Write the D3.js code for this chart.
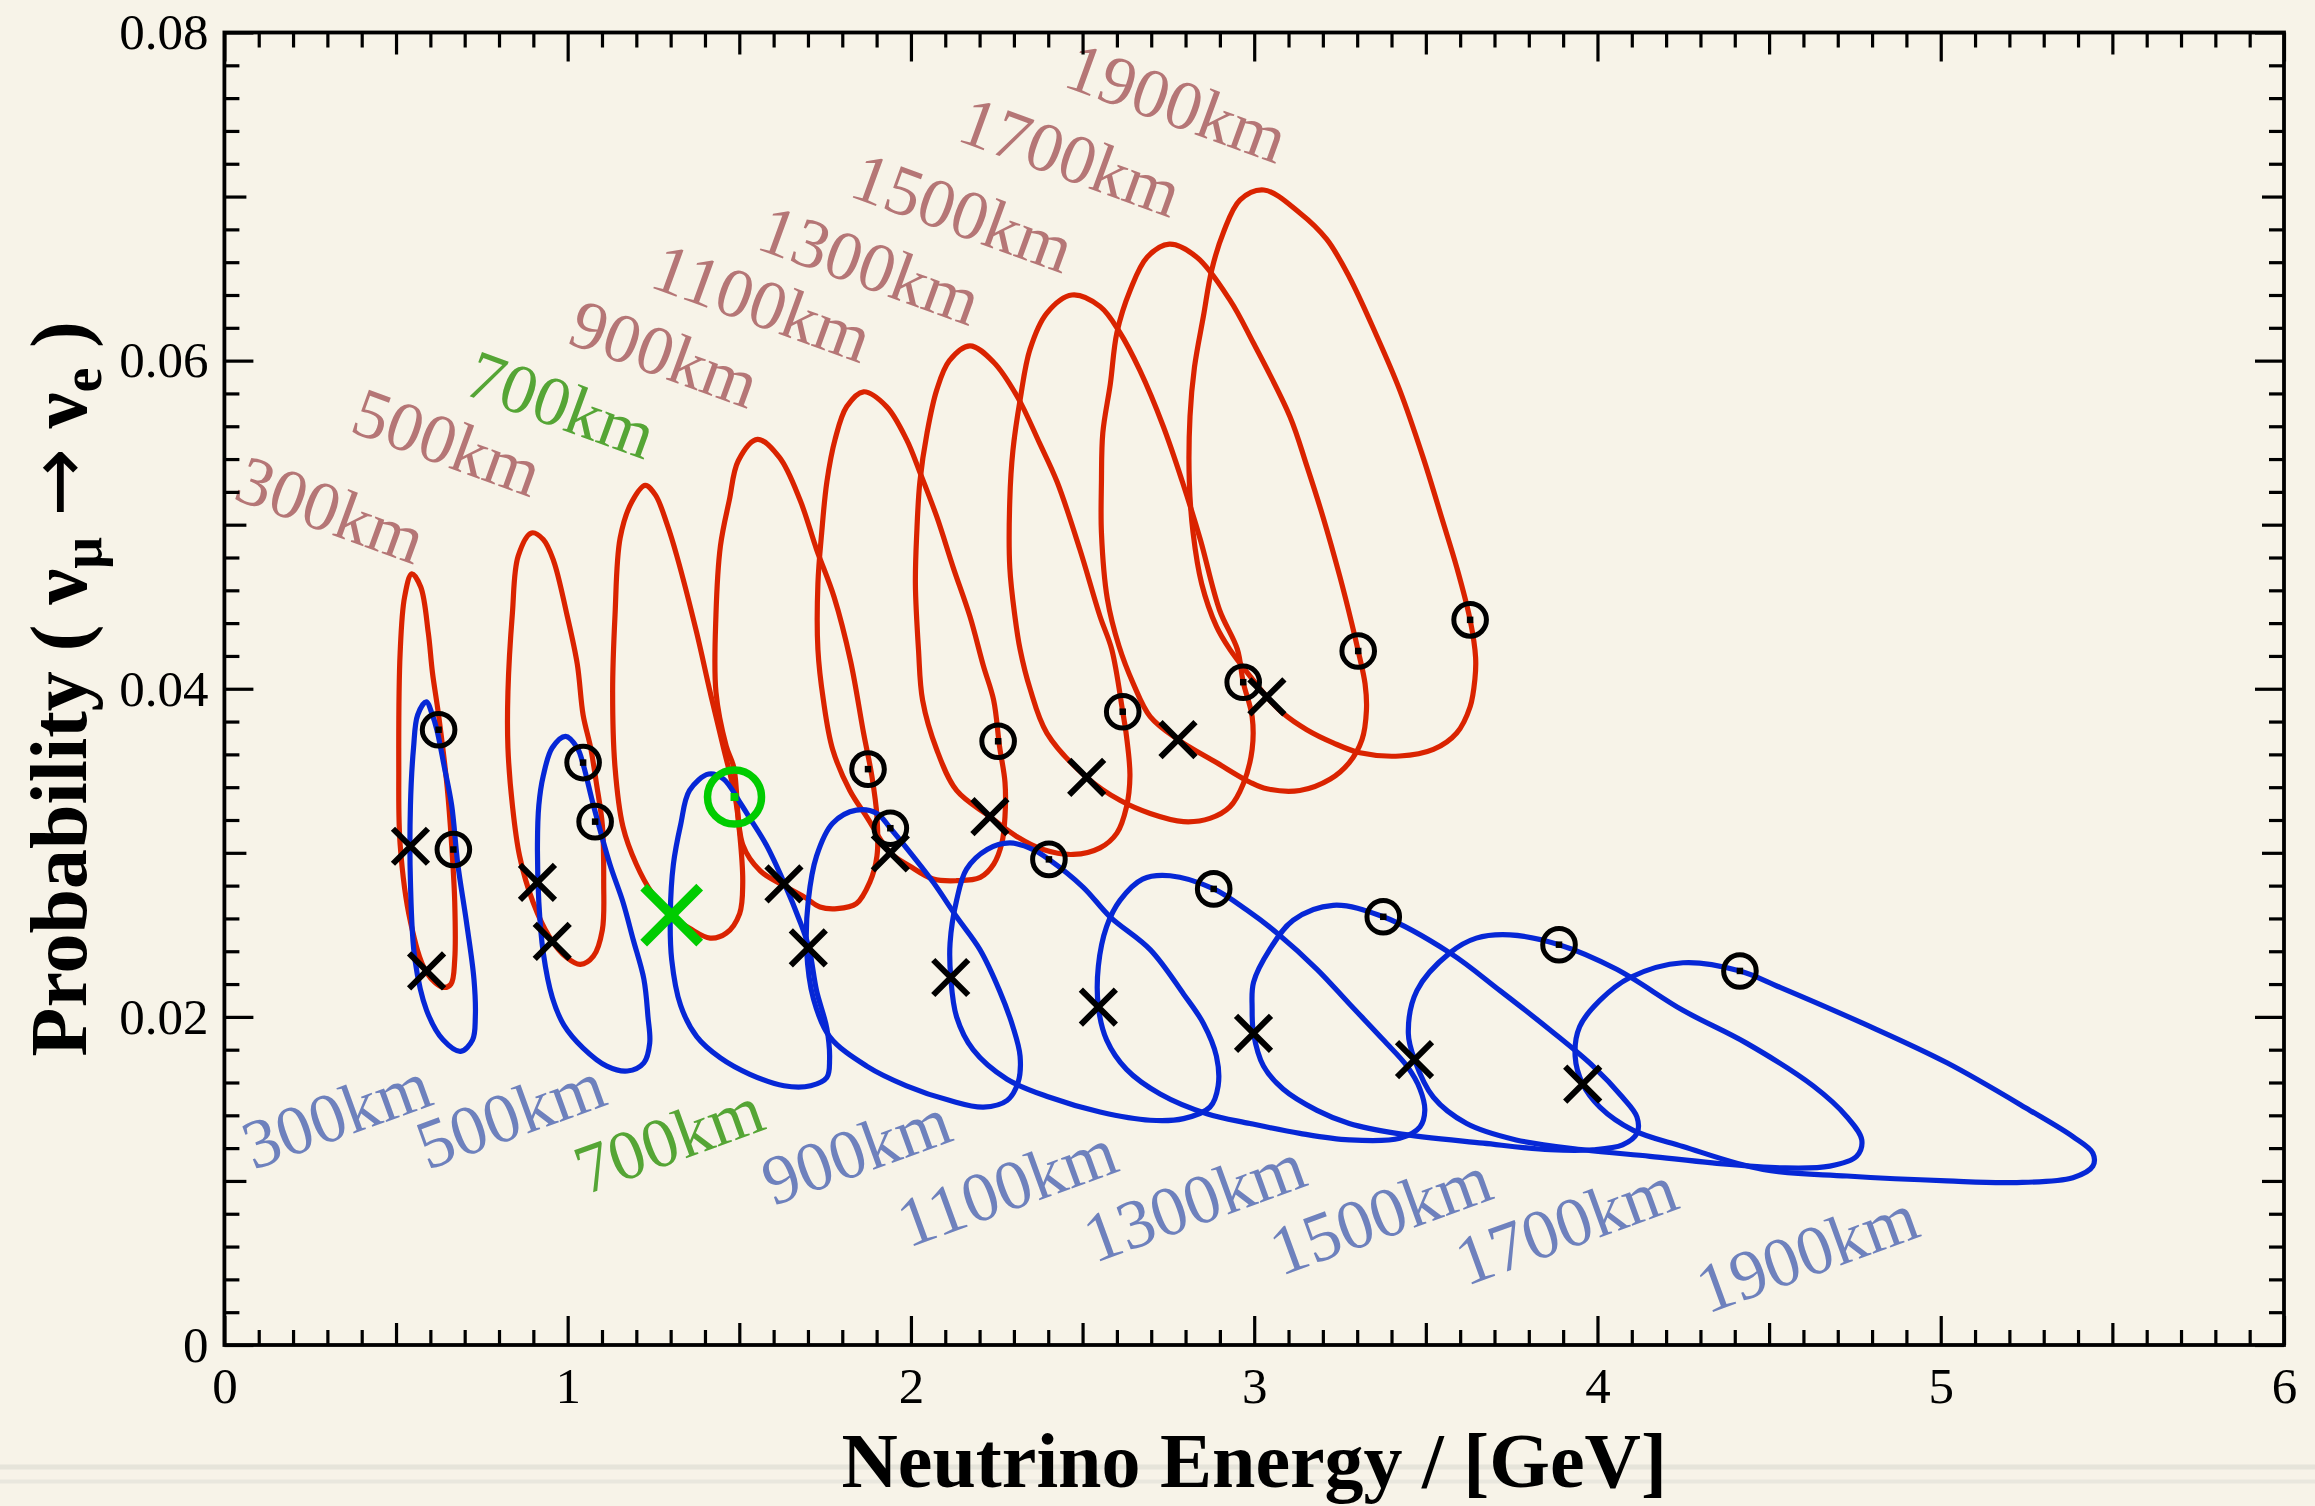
<!DOCTYPE html>
<html><head><meta charset="utf-8">
<script src="https://cdn.jsdelivr.net/npm/d3@7"></script>
<style>
html,body{margin:0;padding:0;background:#F7F3E8;}
svg{display:block;}
text{font-family:"Liberation Serif","Times New Roman",serif;}
</style></head>
<body><svg id="chart" width="2315" height="1506"></svg>
<script>
// ---------- data (E in GeV, P probability) ----------
const baselines = [300,500,700,900,1100,1300,1500,1700,1900];

// neutrino (red) closed curves
const nu300 = [[0.546,0.0470],[0.572,0.0462],[0.594,0.0434],[0.606,0.0410],[0.624,0.0384],[0.649,0.0340],[0.662,0.0305],[0.671,0.0270],[0.671,0.0235],[0.660,0.0220],[0.637,0.0218],[0.589,0.0227],[0.542,0.0258],[0.512,0.0305],[0.508,0.0352],[0.512,0.0422],[0.525,0.0456]];
const nu500 = [[0.895,0.0495],[0.929,0.0491],[0.959,0.0478],[0.998,0.0445],[1.028,0.0415],[1.045,0.0384],[1.067,0.0364],[1.084,0.0342],[1.101,0.0317],[1.105,0.0282],[1.101,0.0253],[1.075,0.0237],[1.037,0.0232],[0.998,0.0236],[0.946,0.0249],[0.899,0.0270],[0.860,0.0298],[0.839,0.0329],[0.826,0.0364],[0.826,0.0398],[0.839,0.0446],[0.856,0.0481]];
const nu700 = [[1.226,0.0524],[1.256,0.0518],[1.290,0.0500],[1.318,0.0481],[1.376,0.0434],[1.415,0.0398],[1.454,0.0364],[1.488,0.0334],[1.501,0.0312],[1.510,0.0282],[1.501,0.0263],[1.462,0.0251],[1.415,0.0248],[1.355,0.0254],[1.299,0.0262],[1.247,0.0275],[1.200,0.0293],[1.161,0.0316],[1.138,0.0352],[1.131,0.0398],[1.138,0.0445],[1.153,0.0492],[1.187,0.0514]];
const nu900 = [[1.553,0.0552],[1.617,0.0541],[1.677,0.0515],[1.725,0.0485],[1.776,0.0456],[1.824,0.0417],[1.862,0.0373],[1.886,0.0347],[1.901,0.0322],[1.901,0.0298],[1.880,0.0282],[1.841,0.0269],[1.785,0.0266],[1.735,0.0267],[1.690,0.0273],[1.630,0.0280],[1.561,0.0289],[1.510,0.0305],[1.484,0.0352],[1.462,0.0365],[1.432,0.0398],[1.432,0.0445],[1.445,0.0487],[1.471,0.0515],[1.497,0.0539]];
const nu1100 = [[1.862,0.0581],[1.929,0.0572],[1.987,0.0552],[2.026,0.0532],[2.075,0.0505],[2.123,0.0474],[2.172,0.0444],[2.211,0.0414],[2.241,0.0393],[2.258,0.0365],[2.274,0.0343],[2.274,0.0322],[2.265,0.0306],[2.241,0.0293],[2.202,0.0285],[2.133,0.0283],[2.065,0.0284],[1.996,0.0292],[1.940,0.0300],[1.871,0.0322],[1.822,0.0338],[1.772,0.0363],[1.745,0.0393],[1.729,0.0424],[1.729,0.0464],[1.740,0.0495],[1.755,0.0526],[1.779,0.0552],[1.813,0.0572]];
const nu1300 = [[2.172,0.0609],[2.241,0.0599],[2.310,0.0578],[2.374,0.0550],[2.426,0.0526],[2.492,0.0485],[2.551,0.0444],[2.585,0.0424],[2.617,0.0386],[2.628,0.0371],[2.638,0.0347],[2.628,0.0328],[2.600,0.0312],[2.551,0.0303],[2.473,0.0299],[2.385,0.0302],[2.308,0.0310],[2.230,0.0322],[2.133,0.0338],[2.075,0.0363],[2.034,0.0393],[2.022,0.0424],[2.013,0.0464],[2.017,0.0495],[2.026,0.0526],[2.047,0.0556],[2.075,0.0582],[2.112,0.0600]];
const nu1500 = [[2.469,0.0640],[2.551,0.0633],[2.609,0.0617],[2.667,0.0594],[2.735,0.0560],[2.791,0.0526],[2.843,0.0491],[2.899,0.0448],[2.951,0.0424],[2.968,0.0404],[2.994,0.0383],[2.994,0.0363],[2.968,0.0342],[2.929,0.0328],[2.871,0.0321],[2.794,0.0319],[2.697,0.0324],[2.609,0.0332],[2.512,0.0346],[2.396,0.0373],[2.347,0.0400],[2.318,0.0424],[2.303,0.0444],[2.288,0.0474],[2.288,0.0515],[2.297,0.0545],[2.318,0.0576],[2.347,0.0607],[2.396,0.0629]];
const nu1700 = [[2.753,0.0671],[2.833,0.0663],[2.929,0.0637],[2.997,0.0611],[3.104,0.0566],[3.153,0.0536],[3.200,0.0505],[3.250,0.0468],[3.284,0.0440],[3.303,0.0423],[3.323,0.0403],[3.327,0.0387],[3.314,0.0369],[3.277,0.0355],[3.222,0.0345],[3.133,0.0338],[3.037,0.0339],[2.988,0.0343],[2.890,0.0355],[2.778,0.0369],[2.697,0.0383],[2.648,0.0403],[2.606,0.0426],[2.572,0.0455],[2.555,0.0495],[2.555,0.0526],[2.559,0.0556],[2.581,0.0586],[2.600,0.0617],[2.639,0.0643],[2.688,0.0663]];
const nu1900 = [[3.028,0.0704],[3.133,0.0690],[3.211,0.0674],[3.277,0.0651],[3.357,0.0615],[3.424,0.0582],[3.492,0.0541],[3.548,0.0503],[3.590,0.0474],[3.629,0.0442],[3.645,0.0419],[3.643,0.0406],[3.629,0.0389],[3.590,0.0373],[3.522,0.0363],[3.424,0.0359],[3.308,0.0361],[3.230,0.0367],[3.153,0.0375],[3.084,0.0385],[3.037,0.0395],[2.994,0.0406],[2.929,0.0424],[2.890,0.0438],[2.847,0.0464],[2.822,0.0495],[2.811,0.0526],[2.813,0.0566],[2.826,0.0596],[2.852,0.0627],[2.876,0.0655],[2.910,0.0678],[2.959,0.0698]];

// anti-neutrino (blue) closed curves
const anu300 = [[0.588,0.0392],[0.606,0.0384],[0.619,0.0375],[0.641,0.0352],[0.662,0.0329],[0.680,0.0293],[0.705,0.0258],[0.727,0.0223],[0.731,0.0200],[0.723,0.0186],[0.688,0.0179],[0.637,0.0186],[0.589,0.0204],[0.555,0.0235],[0.542,0.0282],[0.542,0.0329],[0.551,0.0364],[0.563,0.0384]];
const anu500 = [[0.994,0.0371],[1.028,0.0364],[1.045,0.0354],[1.075,0.0329],[1.123,0.0293],[1.161,0.0270],[1.191,0.0247],[1.222,0.0223],[1.234,0.0200],[1.239,0.0184],[1.222,0.0172],[1.174,0.0167],[1.114,0.0170],[1.045,0.0181],[0.989,0.0195],[0.955,0.0212],[0.929,0.0239],[0.916,0.0270],[0.912,0.0305],[0.916,0.0329],[0.929,0.0347],[0.955,0.0364]];
const anu700 = [[1.411,0.0348],[1.454,0.0345],[1.501,0.0331],[1.531,0.0321],[1.578,0.0305],[1.630,0.0282],[1.677,0.0258],[1.703,0.0242],[1.725,0.0216],[1.755,0.0193],[1.763,0.0174],[1.755,0.0163],[1.708,0.0158],[1.630,0.0158],[1.531,0.0165],[1.445,0.0175],[1.376,0.0188],[1.329,0.0207],[1.303,0.0235],[1.299,0.0263],[1.308,0.0293],[1.329,0.0317],[1.355,0.0338]];
const anu900 = [[1.841,0.0326],[1.901,0.0324],[1.940,0.0315],[2.006,0.0298],[2.065,0.0282],[2.133,0.0261],[2.201,0.0241],[2.258,0.0216],[2.297,0.0194],[2.318,0.0176],[2.312,0.0160],[2.280,0.0149],[2.211,0.0145],[2.114,0.0149],[1.987,0.0158],[1.871,0.0170],[1.763,0.0188],[1.716,0.0211],[1.696,0.0241],[1.701,0.0271],[1.725,0.0298],[1.772,0.0318]];
const anu1100 = [[2.288,0.0306],[2.356,0.0302],[2.402,0.0296],[2.502,0.0279],[2.580,0.0261],[2.697,0.0241],[2.794,0.0214],[2.852,0.0196],[2.890,0.0176],[2.895,0.0158],[2.871,0.0145],[2.794,0.0138],[2.697,0.0137],[2.551,0.0142],[2.404,0.0151],[2.280,0.0162],[2.181,0.0180],[2.133,0.0200],[2.116,0.0224],[2.114,0.0245],[2.133,0.0271],[2.162,0.0290],[2.222,0.0302]];
const anu1300 = [[2.755,0.0286],[2.882,0.0278],[2.979,0.0265],[3.067,0.0251],[3.183,0.0229],[3.277,0.0208],[3.376,0.0186],[3.445,0.0170],[3.483,0.0156],[3.497,0.0143],[3.483,0.0133],[3.424,0.0126],[3.277,0.0125],[3.133,0.0129],[2.988,0.0135],[2.862,0.0141],[2.726,0.0153],[2.628,0.0168],[2.570,0.0186],[2.546,0.0206],[2.546,0.0231],[2.570,0.0255],[2.609,0.0271],[2.675,0.0284]];
const anu1500 = [[3.230,0.0268],[3.376,0.0261],[3.570,0.0239],[3.716,0.0216],[3.862,0.0192],[3.987,0.0170],[4.073,0.0151],[4.115,0.0139],[4.115,0.0129],[4.073,0.0122],[3.987,0.0119],[3.862,0.0119],[3.667,0.0123],[3.415,0.0129],[3.277,0.0135],[3.183,0.0143],[3.084,0.0156],[3.027,0.0170],[2.998,0.0190],[2.994,0.0205],[2.998,0.0221],[3.045,0.0241],[3.114,0.0259]];
const anu1700 = [[3.745,0.0250],[3.888,0.0244],[4.056,0.0229],[4.249,0.0204],[4.434,0.0184],[4.628,0.0158],[4.727,0.0139],[4.770,0.0125],[4.755,0.0115],[4.677,0.0109],[4.532,0.0108],[4.335,0.0111],[4.153,0.0115],[3.959,0.0119],[3.763,0.0125],[3.619,0.0135],[3.522,0.0151],[3.467,0.0174],[3.449,0.0190],[3.474,0.0216],[3.570,0.0239],[3.647,0.0248]];
const anu1900 = [[4.249,0.0233],[4.415,0.0228],[4.532,0.0218],[4.774,0.0196],[5.018,0.0172],[5.260,0.0143],[5.385,0.0127],[5.443,0.0117],[5.443,0.0109],[5.385,0.0102],[5.211,0.0099],[5.018,0.0100],[4.727,0.0103],[4.482,0.0107],[4.249,0.0121],[4.103,0.0131],[4.007,0.0145],[3.957,0.0159],[3.935,0.0176],[3.948,0.0194],[4.007,0.0210],[4.095,0.0224]];

// markers on the curves
const nuCircles  = [[0.624,0.0375],[1.045,0.0355],[1.875,0.0351],[2.254,0.0368],[2.617,0.0386],[2.968,0.0404],[3.303,0.0423],[3.629,0.0442]];
const anuCircles = [[0.667,0.0302],[1.080,0.0319],[1.940,0.0315],[2.402,0.0296],[2.882,0.0278],[3.376,0.0261],[3.888,0.0244],[4.415,0.0228]];
const nuCrosses  = [[0.542,0.0304],[0.912,0.0282],[1.630,0.0281],[1.940,0.0300],[2.230,0.0322],[2.512,0.0346],[2.778,0.0369],[3.037,0.0395]];
const anuCrosses = [[0.589,0.0228],[0.955,0.0246],[1.701,0.0242],[2.116,0.0224],[2.546,0.0206],[2.998,0.0190],[3.467,0.0174],[3.957,0.0159]];
const magicCircle = [[1.486,0.0334]];
const magicCross  = [[1.303,0.0262]];

// label anchors (data coordinates)
const nuLabelE  = [0.310,0.649,0.981,1.282,1.566,1.880,2.151,2.465,2.774];
const nuLabelP  = [0.0509,0.0550,0.0573,0.0604,0.0635,0.0658,0.0690,0.0724,0.0757];
const anuLabelE = [0.327,0.834,1.295,1.841,2.280,2.826,3.368,3.909,4.611];
const anuLabelP = [0.0140,0.0140,0.0125,0.0118,0.0096,0.0087,0.0079,0.0073,0.0056];

const xMajor = [0,1,2,3,4,5,6];
const yMajor = [0,0.02,0.04,0.06,0.08];

// ---------- drawing ----------
const svg = d3.select("#chart");
const W = 2315, H = 1506;
const L = 224.4, R = 2284, T = 32.5, B = 1345;
const x = d3.scaleLinear().domain([0,6]).range([L,R]);
const y = d3.scaleLinear().domain([0,0.08]).range([B,T]);

svg.append("rect").attr("width",W).attr("height",H).attr("fill","#F7F3E8");
// faint slide lines at the bottom
svg.append("line").attr("x1",0).attr("x2",W).attr("y1",1467).attr("y2",1467).attr("stroke","#E6E4DA").attr("stroke-width",5);
svg.append("line").attr("x1",0).attr("x2",W).attr("y1",1481.5).attr("y2",1481.5).attr("stroke","#E9E7DE").attr("stroke-width",4);

const line = d3.line().x(d=>x(d[0])).y(d=>y(d[1])).curve(d3.curveCatmullRomClosed.alpha(0.5));

const nuCurves  = [nu300,nu500,nu700,nu900,nu1100,nu1300,nu1500,nu1700,nu1900];
const anuCurves = [anu300,anu500,anu700,anu900,anu1100,anu1300,anu1500,anu1700,anu1900];

const gC = svg.append("g");
gC.selectAll("path.nu").data(nuCurves).join("path").attr("class","nu")
  .attr("d",line).attr("fill","none").attr("stroke","#DA2300").attr("stroke-width",5.2).attr("stroke-linejoin","round");
gC.selectAll("path.anu").data(anuCurves).join("path").attr("class","anu")
  .attr("d",line).attr("fill","none").attr("stroke","#0627D6").attr("stroke-width",5.2).attr("stroke-linejoin","round");

// markers
function circles(data, r, sw, dot, col){
  const g = svg.append("g");
  g.selectAll("circle").data(data).join("circle")
    .attr("cx",d=>x(d[0])).attr("cy",d=>y(d[1])).attr("r",r)
    .attr("fill","none").attr("stroke",col).attr("stroke-width",sw);
  g.selectAll("rect").data(data).join("rect")
    .attr("x",d=>x(d[0])-dot/2).attr("y",d=>y(d[1])-dot/2).attr("width",dot).attr("height",dot).attr("fill",col);
}
function crosses(data, s, sw, col){
  svg.append("g").selectAll("path").data(data).join("path")
    .attr("d",d=>{const cx=x(d[0]), cy=y(d[1]); return `M${cx-s},${cy-s}L${cx+s},${cy+s}M${cx-s},${cy+s}L${cx+s},${cy-s}`;})
    .attr("stroke",col).attr("stroke-width",sw).attr("fill","none");
}
circles(nuCircles,16.3,5,6.5,"#000");
circles(anuCircles,16.3,5,6.5,"#000");
crosses(nuCrosses,17.5,6,"#000");
crosses(anuCrosses,17.5,6,"#000");
circles(magicCircle,27,7.5,8,"#00CC00");
crosses(magicCross,28,9.5,"#00CC00");

// labels
const gl = svg.append("g").style("font-size","70px");
baselines.forEach((b,i)=>{
  const col = b===700 ? "#55A535" : "#B57676";
  gl.append("text").attr("transform",`translate(${x(nuLabelE[i])},${y(nuLabelP[i])}) rotate(20)`)
    .attr("text-anchor","middle").attr("dy","0.33em").attr("fill",col).text(b+"km");
});
baselines.forEach((b,i)=>{
  const col = b===700 ? "#55A535" : "#6E81BD";
  gl.append("text").attr("transform",`translate(${x(anuLabelE[i])},${y(anuLabelP[i])}) rotate(-20)`)
    .attr("text-anchor","middle").attr("dy","0.33em").attr("fill",col).text(b+"km");
});

// axes
const xMinor = d3.range(1,60).map(d=>d/10).filter(d=>Math.abs(d*2-Math.round(d*2))>1e-6);
const xMid = [0.5,1.5,2.5,3.5,4.5,5.5];
const yMinor = d3.range(1,40).map(d=>d*0.002).filter(d=>Math.abs(d*100-Math.round(d*100))>1e-6);
const yMid = [0.01,0.03,0.05,0.07];
const sizes = [[xMajor,29],[xMid,22],[xMinor,15]];
const ysizes = [[yMajor,29],[yMid,22],[yMinor,15]];

function styleAxis(g){
  g.select(".domain").remove();
  g.selectAll(".tick line").attr("stroke","#000").attr("stroke-width",3.2);
  g.selectAll(".tick text").attr("fill","#000").style("font-size","51px").style("font-family",'"Liberation Serif","Times New Roman",serif');
}
sizes.forEach(([vals,s],k)=>{
  const gb = svg.append("g").attr("transform",`translate(0,${B})`)
    .call(d3.axisBottom(x).tickValues(vals).tickSize(-s).tickPadding(22).tickFormat(k===0? d3.format("d") : ()=>""));
  styleAxis(gb);
  const gt = svg.append("g").attr("transform",`translate(0,${T})`)
    .call(d3.axisTop(x).tickValues(vals).tickSize(-s).tickFormat(()=>""));
  styleAxis(gt);
});
ysizes.forEach(([vals,s],k)=>{
  const gl2 = svg.append("g").attr("transform",`translate(${L},0)`)
    .call(d3.axisLeft(y).tickValues(vals).tickSize(-s).tickPadding(16).tickFormat(k===0? (d=>d===0?"0":d.toFixed(2)) : ()=>""));
  styleAxis(gl2);
  const gr = svg.append("g").attr("transform",`translate(${R},0)`)
    .call(d3.axisRight(y).tickValues(vals).tickSize(-s).tickFormat(()=>""));
  styleAxis(gr);
});
svg.append("rect").attr("x",L).attr("y",T).attr("width",R-L).attr("height",B-T)
  .attr("fill","none").attr("stroke","#000").attr("stroke-width",3.8);

// axis titles
svg.append("text").attr("x",(L+R)/2).attr("y",1487).attr("text-anchor","middle")
  .style("font-weight","bold").style("font-size","78px").attr("fill","#000")
  .text("Neutrino Energy / [GeV]");
const yt = svg.append("text").attr("transform",`translate(86,${(T+B)/2}) rotate(-90)`)
  .attr("text-anchor","middle").style("font-weight","bold").style("font-size","80px").attr("fill","#000");
yt.append("tspan").text("Probability ( ν");
yt.append("tspan").attr("dy",15).style("font-size","56px").text("μ");
yt.append("tspan").attr("dy",-15).text(" ");
yt.append("tspan").style("font-family",'"DejaVu Sans",sans-serif').style("font-weight","normal").style("font-size","82px").text("→");
yt.append("tspan").text(" ν");
yt.append("tspan").attr("dy",15).style("font-size","56px").text("e");
yt.append("tspan").attr("dy",-15).text(" )");
</script>
</body></html>
